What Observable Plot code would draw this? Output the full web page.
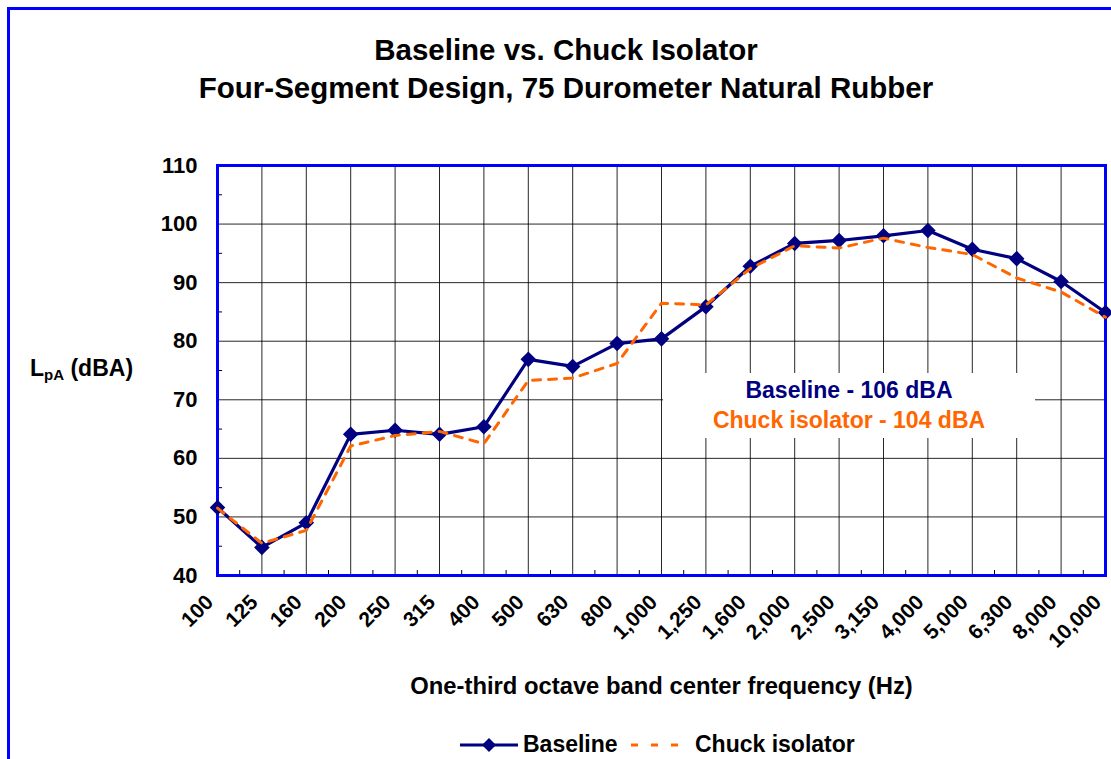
<!DOCTYPE html>
<html>
<head>
<meta charset="utf-8">
<script src="https://cdn.jsdelivr.net/npm/d3@7"></script>
<script src="https://cdn.jsdelivr.net/npm/@observablehq/plot@0.6"></script>
<style>
  html, body { margin: 0; padding: 0; background: #fff; }
  body { width: 1111px; height: 759px; overflow: hidden; position: relative;
         font-family: "Liberation Sans", Arial, sans-serif; font-weight: bold; color: #000; }
  #outer { position: absolute; left: 7px; top: 7px; width: 1300px; height: 1000px;
           border: 3px solid #0000ff; box-sizing: border-box; }
  #title { position: absolute; left: 0; top: 31px; width: 1132px; text-align: center;
           font-size: 29.5px; line-height: 38px; }
  #chart { position: absolute; left: 0; top: 120px; }
  #ylabel { position: absolute; left: 30px; top: 353px; font-size: 23px; line-height: 30px; white-space: nowrap; }
  #ylabel sub { font-size: 15px; vertical-align: -4px; }
  #note { position: absolute; left: 663px; top: 373px; width: 372px; height: 65px; background: #fff;
          text-align: center; font-size: 23px; line-height: 30px; padding-top: 2px; box-sizing: border-box; }
  #legend { position: absolute; left: 0; top: 729px; width: 1111px; height: 30px; font-size: 23px; }
  #legend .item { position: absolute; top: 0; line-height: 30px; }
</style>
</head>
<body>
<div id="outer"></div>
<div id="title">Baseline vs. Chuck Isolator<br>Four-Segment Design, 75 Durometer Natural Rubber</div>
<div id="chart"></div>
<div id="ylabel">L<sub>pA</sub> (dBA)</div>
<div id="note"><div style="color:#000080">Baseline - 106 dBA</div><div style="color:#ff6600">Chuck isolator - 104 dBA</div></div>
<div id="legend">
  <svg style="position:absolute;left:455px;top:0" width="70" height="30">
    <line x1="5" y1="16" x2="63" y2="16" stroke="#000080" stroke-width="3"/>
    <path d="M34,9 L41,16 L34,23 L27,16 Z" fill="#000080"/>
  </svg>
  <span class="item" style="left:523px">Baseline</span>
  <svg style="position:absolute;left:625px;top:0" width="65" height="30">
    <line x1="6" y1="16" x2="58" y2="16" stroke="#ff6600" stroke-width="3" stroke-dasharray="7,13"/>
  </svg>
  <span class="item" style="left:695px">Chuck isolator</span>
</div>
<script>
const categories = ["100","125","160","200","250","315","400","500","630","800","1,000","1,250","1,600","2,000","2,500","3,150","4,000","5,000","6,300","8,000","10,000"];
const baseline = [51.6,44.8,49.0,64.1,64.8,64.1,65.4,76.9,75.7,79.6,80.4,85.9,92.8,96.7,97.2,98.0,98.9,95.7,94.1,90.2,84.9];
const chuck = [51.5,45.5,47.7,62.1,63.9,64.6,62.5,73.3,73.7,76.2,86.5,86.2,92.4,96.3,95.9,97.6,96.0,94.8,90.8,88.4,84.1];
const yTicks = [40,50,60,70,80,90,100,110];
const yGrid = [50,60,70,80,90,100];
const yMinor = [45,55,65,75,85,95,105];
const xLabel = "One-third octave band center frequency (Hz)";

const idx = categories.map((c, i) => i);
const xMinor = idx.slice(0, -1).map(i => i + 0.5);
const xGrid = idx.slice(1, -1);
const rowsBase = categories.map((c, i) => ({i, c, v: baseline[i]}));
const rowsChuck = categories.map((c, i) => ({i, c, v: chuck[i]}));

const chart = Plot.plot({
  width: 1111,
  height: 600,
  marginTop: 45,
  marginBottom: 145,
  marginLeft: 217,
  marginRight: 6,
  style: {fontFamily: "'Liberation Sans', Arial, sans-serif", fontWeight: "bold", color: "#000", background: "transparent", overflow: "visible"},
  x: {domain: [0, categories.length - 1], axis: null, label: null},
  y: {domain: [40, 110], axis: null, label: null},
  marks: [
    Plot.ruleX(xGrid, {x: d => d, stroke: "#000", strokeWidth: 1, strokeOpacity: 0.85}),
    Plot.ruleY(yGrid, {y: d => d, stroke: "#000", strokeWidth: 1, strokeOpacity: 0.85}),
    Plot.axisY({ticks: yMinor, tickSize: -5, tickFormat: () => "", stroke: "#000", label: null}),
    Plot.axisX({ticks: xMinor, tickSize: -5, tickFormat: () => "", stroke: "#000", label: null}),
    Plot.axisY({ticks: yTicks, tickSize: 0, tickPadding: 20, fontSize: 22, fontWeight: "bold", label: null}),
    Plot.text(categories, {x: (d, i) => i, text: d => d, frameAnchor: "bottom", rotate: -45, textAnchor: "end",
      dx: -3, dy: 28, fontSize: 21, fontWeight: "bold", fill: "#000"}),
    Plot.text([xLabel], {text: d => d, frameAnchor: "bottom", dy: 118, fontSize: 23.8, fontWeight: "bold", fill: "#000"}),
    Plot.frame({stroke: "#0000ff", strokeWidth: 3}),
    Plot.line(rowsBase, {x: "i", y: "v", stroke: "#000080", strokeWidth: 3.2}),
    Plot.dot(rowsBase, {x: "i", y: "v", symbol: "diamond2", r: 7, fill: "#000080", stroke: null}),
    Plot.line(rowsChuck, {x: "i", y: "v", stroke: "#ff6600", strokeWidth: 3, strokeDasharray: "8,8"})
  ]
});
document.getElementById("chart").appendChild(chart);
</script>
</body>
</html>
